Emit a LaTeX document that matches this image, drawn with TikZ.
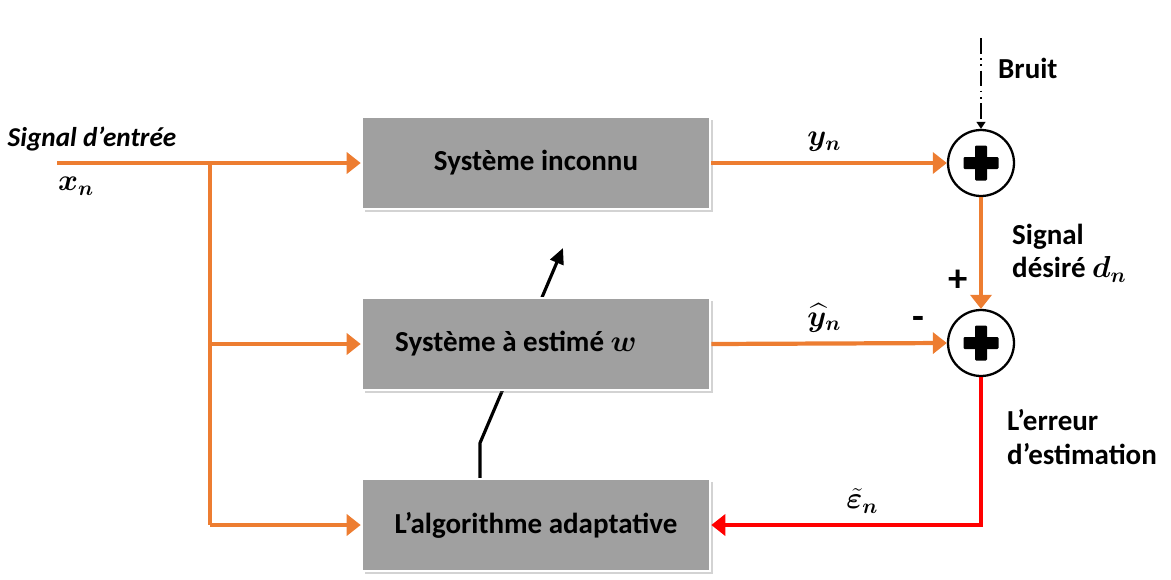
\documentclass[tikz,border=0pt]{standalone}
\usepackage{amsmath}
\usepackage{bm}
\usepackage{fontspec}
\setmainfont{Carlito}
\usepackage{tikz}
\usetikzlibrary{arrows.meta,shadows}
\definecolor{sigorange}{HTML}{ED7D31}
\definecolor{boxgray}{HTML}{A0A0A0}
\tikzset{>=latex}
\tikzset{
  sysbox/.style={rectangle, fill=boxgray, draw=white, line width=1.5pt,
    minimum width=6.96cm, minimum height=1.84cm, font=\fontsize{16.5}{19}\selectfont\bfseries,
    drop shadow={opacity=0.35, shadow xshift=1.5pt, shadow yshift=-1.5pt}},
  sumnode/.style={circle, draw, line width=1.3pt, fill=white, minimum size=1.32cm, inner sep=0pt,
    path picture={
      \fill[black, rounded corners=0.6pt] ([xshift=-0.35cm,yshift=-0.12cm]path picture bounding box.center) rectangle ([xshift=0.35cm,yshift=0.12cm]path picture bounding box.center);
      \fill[black, rounded corners=0.6pt] ([xshift=-0.12cm,yshift=-0.35cm]path picture bounding box.center) rectangle ([xshift=0.12cm,yshift=0.35cm]path picture bounding box.center);}},
  sigline/.style={sigorange, line width=2.4pt},
  errline/.style={red, line width=2.4pt},
  bigtip/.style={-{Triangle[length=8pt,width=12pt]}},
  lbl/.style={text=black, font=\fontsize{16.5}{19}\selectfont\bfseries}
}

\begin{document}
\begin{tikzpicture}[x=0.02cm,y=-0.02cm]
\useasboundingbox (0,0) rectangle (1171,579);

% Adaptation arrow (behind the boxes)
\coordinate (adapt0) at (480,479);
\coordinate (adapt1) at (480,443);
\coordinate (adapt2) at (563,248);
\draw[line width=1.8pt,-{Triangle[length=9pt,width=8pt]}] (adapt0) -- (adapt1) -- (adapt2);

% Boxes
\node[sysbox] (inconnu) at (536,163) {Système inconnu};
\node[sysbox] (estime) at (536,344) {Système à estimé $\bm{w}$\hspace*{0.8cm}};
\node[sysbox] (algo) at (536,525) {L’algorithme adaptative};

% Sums
\node[sumnode] (sum1) at (981,163) {};
\node[sumnode] (sum2) at (981,343) {};

% Input signal
\coordinate (in) at (57,163);
\coordinate (split) at (210,163);
\draw[sigline,bigtip] (in) -- (inconnu.west);
\draw[sigline] (split) -- (210,525);
\draw[sigline,bigtip] (210,344) -- (estime.west);
\draw[sigline,bigtip] (210,525) -- (algo.west);
\node[lbl, font=\fontsize{15.5}{18}\selectfont\bfseries\itshape] (entree) at (92,139) {Signal d’entrée};
\node[lbl] (xn) at (76,186) {$\bm{x_n}$};

% Outputs
\draw[sigline,bigtip] (inconnu.east) -- (sum1.west) node[pos=0.48,above,lbl,yshift=2pt]{$\bm{y_n}$};
\draw[sigline,bigtip] (estime.east) -- (sum2.west) node[pos=0.48,above,lbl,yshift=2pt]{$\bm{\widehat{y}_n}$};
\node[lbl, font=\fontsize{22}{24}\selectfont\bfseries] (moins) at (918,323) {-};

% Noise
\coordinate (noise) at (981,38);
\draw[line width=1.3pt, dash pattern=on 9pt off 2.5pt on 1pt off 2.5pt on 1pt off 2.5pt,
  -{Triangle[length=4pt,width=5pt]}] (noise) -- (sum1.north);
\node[lbl, anchor=west] (bruit) at (992,68) {Bruit};

% Desired signal
\draw[sigline,bigtip] (sum1.south) -- (sum2.north);
\node[lbl, anchor=west, align=left] (desire) at (1006,253) {Signal\\désiré $\bm{d_n}$};
\node[lbl, font=\fontsize{22}{24}\selectfont\bfseries] (plus) at (958,281) {+};

% Error
\draw[errline,bigtip] (sum2.south) |- (algo.east) node[pos=0.72,above,lbl,yshift=2pt]{$\bm{\tilde{\varepsilon}_n}$};
\node[lbl, anchor=west, align=left] (erreur) at (1001,437) {L’erreur\\d’estimation};

\end{tikzpicture}
\end{document}
